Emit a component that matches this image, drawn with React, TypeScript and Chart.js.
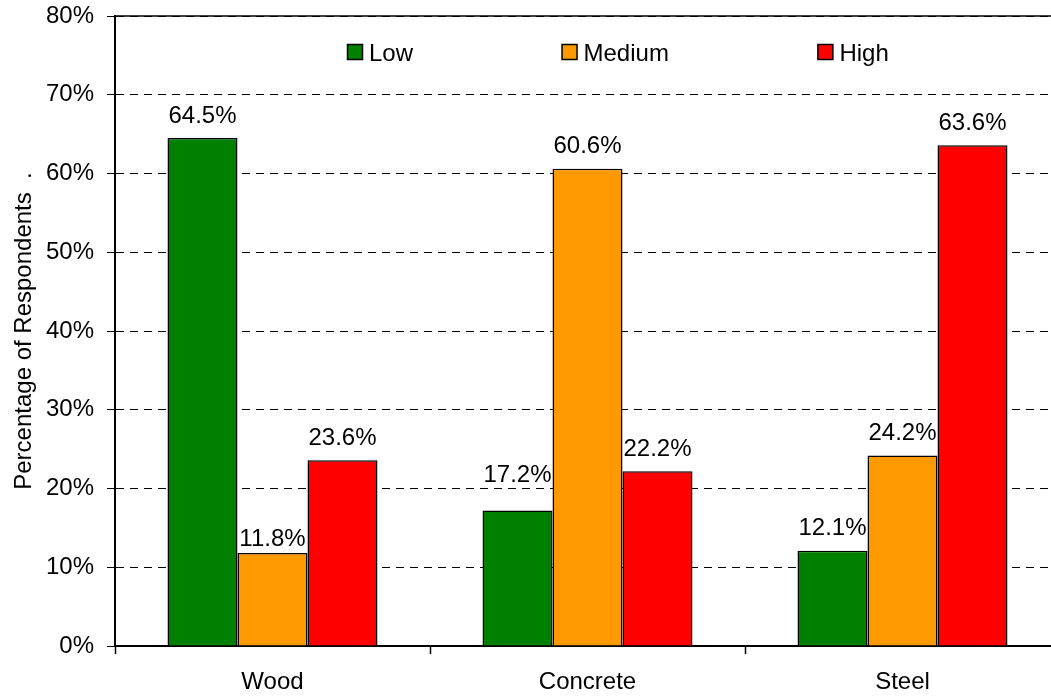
import React, { useEffect, useRef } from "react";
import { Chart, registerables } from "chart.js";

Chart.register(...registerables);

const categories = ["Wood", "Concrete", "Steel"];
const seriesNames = ["Low", "Medium", "High"];
const lowValues = [64.5, 17.2, 12.1];
const mediumValues = [11.8, 60.6, 24.2];
const highValues = [23.6, 22.2, 63.6];
const seriesColors = ["#008000", "#FF9900", "#FF0000"];
const yMin = 0;
const yMax = 80;
const yStep = 10;
const yAxisTitle = "Percentage of Respondents  .";

// style: vertical gap (px) between bar top and label baseline, per series / category
const labelGaps = [
  [15.5, 29, 15.5],
  [7, 16, 15.5],
  [15.5, 15, 15.5],
];

const FONT = "'Liberation Sans', Arial, sans-serif";
const FONT_SIZE = 24;

const topBorderPlugin = {
  id: "topBorder",
  afterDatasetsDraw(chart: any) {
    const { ctx, chartArea } = chart;
    ctx.save();
    ctx.strokeStyle = "#000";
    ctx.lineWidth = 1.5;
    ctx.beginPath();
    ctx.moveTo(chartArea.left, chartArea.top);
    ctx.lineTo(chartArea.right, chartArea.top);
    ctx.stroke();
    ctx.restore();
  },
};

const dataLabelPlugin = {
  id: "dataLabels",
  afterDatasetsDraw(chart: any) {
    const { ctx } = chart;
    ctx.save();
    ctx.font = `${FONT_SIZE}px ${FONT}`;
    ctx.fillStyle = "#000";
    ctx.textAlign = "center";
    ctx.textBaseline = "alphabetic";
    chart.data.datasets.forEach((ds: any, i: number) => {
      const meta = chart.getDatasetMeta(i);
      meta.data.forEach((el: any, j: number) => {
        const v = ds.data[j] as number;
        ctx.fillText(v.toFixed(1) + "%", el.x, el.y - labelGaps[i][j]);
      });
    });
    ctx.restore();
  },
};

const customLegendPlugin = {
  id: "customLegend",
  afterDraw(chart: any) {
    const { ctx } = chart;
    ctx.save();
    ctx.font = `${FONT_SIZE}px ${FONT}`;
    ctx.textBaseline = "alphabetic";
    ctx.textAlign = "left";
    let x = 347;
    const boxTop = 44;
    const box = 16;
    const gap = 148.5;
    chart.data.datasets.forEach((ds: any) => {
      ctx.fillStyle = ds.backgroundColor;
      ctx.fillRect(x + 0.5, boxTop + 0.5, box - 1, box - 1);
      ctx.strokeStyle = "#000";
      ctx.lineWidth = 1.5;
      ctx.strokeRect(x + 0.5, boxTop + 0.5, box - 1, box - 1);
      ctx.fillStyle = "#000";
      const tx = x + box + 6;
      ctx.fillText(ds.label, tx, 61);
      x = tx + ctx.measureText(ds.label).width + gap;
    });
    ctx.restore();
  },
};

export default function App() {
  const ref = useRef<HTMLCanvasElement | null>(null);

  useEffect(() => {
    if (!ref.current) return;
    const values = [lowValues, mediumValues, highValues];
    const chart = new Chart(ref.current, {
      type: "bar",
      data: {
        labels: categories,
        datasets: seriesNames.map((name, i) => ({
          label: name,
          data: values[i],
          backgroundColor: seriesColors[i],
          borderColor: "#000",
          borderWidth: 1.5,
          categoryPercentage: 0.6667,
          barPercentage: 1.0,
        })),
      },
      options: {
        animation: false,
        responsive: false,
        devicePixelRatio: 1,
        layout: { padding: { top: 16, left: 0, right: 10, bottom: 0 } },
        plugins: {
          legend: { display: false },
          tooltip: { enabled: false },
        },
        scales: {
          x: {
            offset: true,
            grid: {
              display: true,
              offset: true,
              drawOnChartArea: false,
              drawTicks: true,
              tickLength: 8,
              tickColor: "#000",
              tickWidth: 1.5,
            },
            border: { display: true, color: "#000", width: 2 },
            ticks: {
              color: "#000",
              padding: 14,
              font: { family: FONT, size: FONT_SIZE },
            },
            afterFit: (scale: any) => {
              scale.height = 50;
              scale.paddingLeft = 0;
              scale.paddingRight = 0;
            },
          },
          y: {
            min: yMin,
            max: yMax,
            grid: {
              color: "#000",
              lineWidth: 1,
              drawTicks: true,
              tickLength: 8,
              tickColor: "#000",
              tickWidth: 1,
            },
            border: { display: true, color: "#000", width: 2, dash: [8, 6] },
            ticks: {
              stepSize: yStep,
              color: "#000",
              padding: 13,
              font: { family: FONT, size: FONT_SIZE },
              callback: (v: any) => `${v}%`,
            },
            title: {
              display: true,
              text: yAxisTitle,
              color: "#000",
              font: { family: FONT, size: FONT_SIZE },
              padding: { top: 10, bottom: 0 },
            },
            afterFit: (scale: any) => {
              scale.width = 115;
              scale.paddingTop = 0;
              scale.paddingBottom = 0;
            },
          },
        },
      },
      plugins: [topBorderPlugin, dataLabelPlugin, customLegendPlugin],
    });
    return () => chart.destroy();
  }, []);

  return (
    <div
      style={{
        position: "fixed",
        left: 0,
        top: 0,
        width: 1051,
        height: 696,
        overflow: "hidden",
        background: "#fff",
      }}
    >
      <canvas ref={ref} width={1070} height={696} style={{ display: "block" }} />
    </div>
  );
}
